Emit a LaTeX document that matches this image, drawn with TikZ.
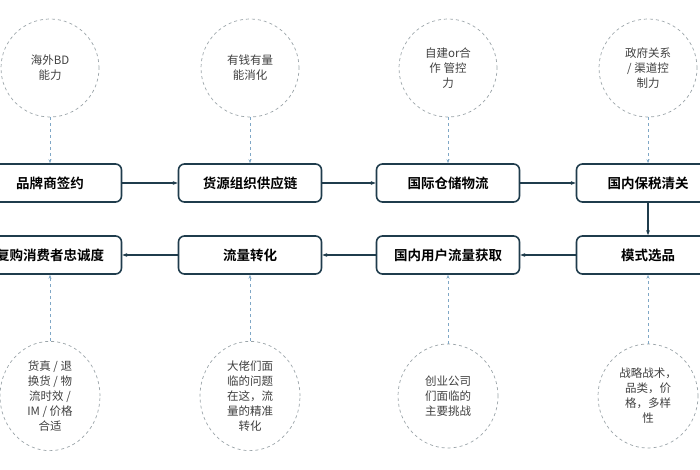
\documentclass[tikz,border=0pt]{standalone}
\usepackage{fontspec}
\setmainfont{Noto Sans CJK SC}
\newfontfamily\cjkb{Noto Sans CJK SC Bold}
\usetikzlibrary{arrows.meta,shapes.geometric}
\definecolor{bx}{HTML}{1F3C4C}
\definecolor{dsh}{HTML}{9AA3A8}
\definecolor{lb}{HTML}{7FA7C6}
\tikzset{
  stepbox/.style={draw=bx,line width=1.6pt,rounded corners=6pt,minimum width=143pt,minimum height=38pt,font=\cjkb\fontsize{13.5}{15}\selectfont,text=black},
  bub/.style={draw=dsh,dashed,line width=0.7pt,circle,minimum size=98pt,align=center,font=\fontsize{11.5}{15}\selectfont,text=black!75},
  ell/.style={draw=dsh,dashed,line width=0.7pt,ellipse,minimum width=100pt,minimum height=104pt,align=center,font=\fontsize{11.5}{15}\selectfont,text=black!75},
  flow/.style={draw=bx,line width=1.4pt,-{Stealth[length=5pt]}},
  hint/.style={draw=lb,dashed,line width=0.8pt,-{Stealth[length=4pt]}}
}
\begin{document}
\begin{tikzpicture}[x=1pt,y=-1pt]
\useasboundingbox (0,0) rectangle (700,470);
\clip (0,0) rectangle (700,470);
\node[stepbox] (b1) at (50,183) {品牌商签约};
\node[stepbox] (b2) at (250,183) {货源组织供应链};
\node[stepbox] (b3) at (448,183) {国际仓储物流};
\node[stepbox] (b4) at (648,183) {国内保税清关};
\node[stepbox] (b5) at (648,255) {模式选品};
\node[stepbox] (b6) at (448,255) {国内用户流量获取};
\node[stepbox] (b7) at (250,255) {流量转化};
\node[stepbox] (b8) at (50,255) {复购消费者忠诚度};
\draw[flow] (b1) -- (b2);
\draw[flow] (b2) -- (b3);
\draw[flow] (b3) -- (b4);
\draw[flow] (b4) -- (b5);
\draw[flow] (b5) -- (b6);
\draw[flow] (b6) -- (b7);
\draw[flow] (b7) -- (b8);
\node[bub] (c1) at (50,68) {海外BD\\能力};
\node[bub] (c2) at (250,68) {有钱有量\\能消化};
\node[bub] (c3) at (448,68) {自建or合\\作 管控\\力};
\node[bub] (c4) at (648,68) {政府关系\\/ 渠道控\\制力};
\draw[hint] (c1) -- (b1);
\draw[hint] (c2) -- (b2);
\draw[hint] (c3) -- (b3);
\draw[hint] (c4) -- (b4);
\node[ell] (e1) at (50,396) {货真 / 退\\换货 / 物\\流时效 /\\IM / 价格\\合适};
\node[ell] (e2) at (250,396) {大佬们面\\临的问题\\在这，流\\量的精准\\转化};
\node[ell] (e3) at (448,396) {创业公司\\们面临的\\主要挑战};
\node[ell] (e4) at (648,396) {战略战术，\\品类，价\\格，多样\\性};
\draw[hint] (e1) -- (b8);
\draw[hint] (e2) -- (b7);
\draw[hint] (e3) -- (b6);
\draw[hint] (e4) -- (b5);
\end{tikzpicture}
\end{document}
